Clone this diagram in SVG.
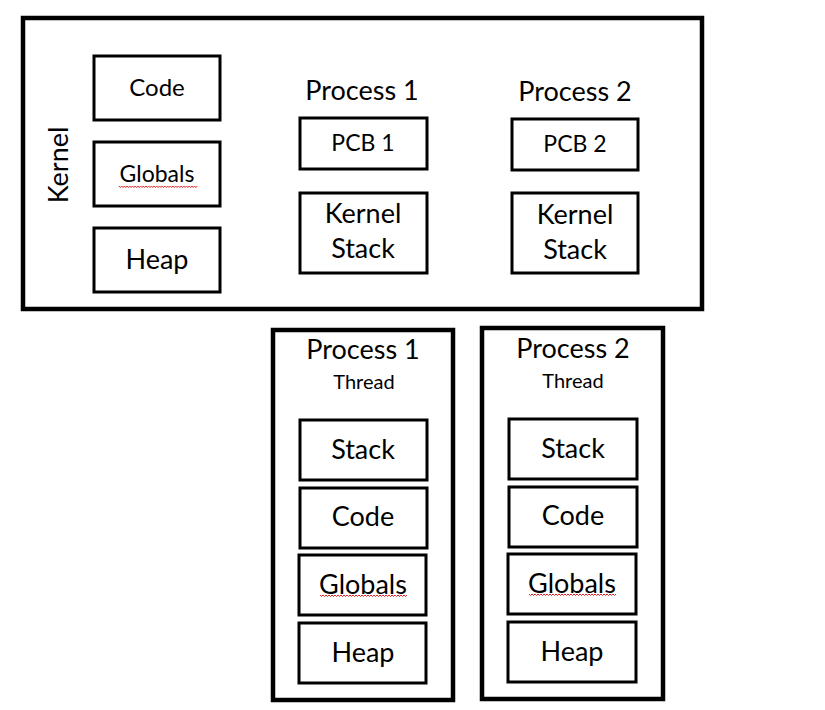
<svg xmlns="http://www.w3.org/2000/svg" width="825" height="710" viewBox="0 0 825 710">
<style>
.outer{fill:#fff;stroke:#000;stroke-width:4.5}
.box{fill:#fff;stroke:#000;stroke-width:3}
text{font-family:"Lato","Open Sans","Liberation Sans",sans-serif;fill:#000;text-anchor:middle}
.t26{font-size:27px}
.t24{font-size:24px}
.t22{font-size:23px}
.t20{font-size:20px}
.sq{fill:none;stroke:#e02020;stroke-width:1}
</style>
<defs>
<path id="wave" class="sq" d="M0,0 l1.5,1.5 l1.5,-1.5 l1.5,1.5 l1.5,-1.5 l1.5,1.5 l1.5,-1.5 l1.5,1.5 l1.5,-1.5 l1.5,1.5 l1.5,-1.5 l1.5,1.5 l1.5,-1.5 l1.5,1.5 l1.5,-1.5 l1.5,1.5 l1.5,-1.5 l1.5,1.5 l1.5,-1.5 l1.5,1.5 l1.5,-1.5 l1.5,1.5 l1.5,-1.5 l1.5,1.5 l1.5,-1.5 l1.5,1.5 l1.5,-1.5 l1.5,1.5 l1.5,-1.5 l1.5,1.5 l1.5,-1.5 l1.5,1.5 l1.5,-1.5 l1.5,1.5 l1.5,-1.5 l1.5,1.5 l1.5,-1.5 l1.5,1.5 l1.5,-1.5 l1.5,1.5 l1.5,-1.5 l1.5,1.5 l1.5,-1.5 l1.5,1.5 l1.5,-1.5 l1.5,1.5 l1.5,-1.5 l1.5,1.5 l1.5,-1.5 l1.5,1.5 l1.5,-1.5 l1.5,1.5 l1.5,-1.5 l1.5,1.5 l1.5,-1.5 l1.5,1.5 l1.5,-1.5 l1.5,1.5 l1.5,-1.5"/>
</defs>
<rect width="825" height="710" fill="#fff"/>

<g id="kernel">
<rect class="outer" x="23" y="18" width="679" height="291"/>
<text class="t26" transform="translate(68,165) rotate(-90)">Kernel</text>
</g>
<g id="k-code"><rect class="box" x="94" y="56" width="126" height="64"/><text class="t24" x="157" y="96">Code</text></g>
<g id="k-globals"><rect class="box" x="94" y="142" width="126" height="64"/><text class="t22" x="157" y="182">Globals</text><use href="#wave" transform="translate(119,186) scale(0.9,1)"/></g>
<g id="k-heap"><rect class="box" x="94" y="228" width="126" height="64"/><text class="t26" x="157" y="269">Heap</text></g>

<g id="p1-kernel">
<text class="t26" x="362" y="100">Process 1</text>
</g>
<g id="pcb1"><rect class="box" x="300" y="118" width="127" height="51"/><text class="t22" x="363" y="151">PCB 1</text></g>
<g id="kstack1"><rect class="box" x="300" y="193" width="127" height="80"/><text class="t26" x="363" y="223">Kernel</text><text class="t26" x="363" y="258">Stack</text></g>

<g id="p2-kernel">
<text class="t26" x="575" y="101">Process 2</text>
</g>
<g id="pcb2"><rect class="box" x="512" y="119" width="126" height="51"/><text class="t22" x="575" y="152">PCB 2</text></g>
<g id="kstack2"><rect class="box" x="512" y="193" width="126" height="80"/><text class="t26" x="575" y="224">Kernel</text><text class="t26" x="575" y="259">Stack</text></g>

<g id="thread1">
<rect class="outer" x="273" y="330" width="180" height="370"/>
<text class="t26" x="363" y="359">Process 1</text>
<text class="t20" x="364" y="389">Thread</text>
</g>
<g id="t1-stack"><rect class="box" x="300" y="420" width="127" height="60"/><text class="t26" x="363" y="459">Stack</text></g>
<g id="t1-code"><rect class="box" x="300" y="488" width="127" height="60"/><text class="t26" x="363" y="526">Code</text></g>
<g id="t1-globals"><rect class="box" x="299" y="555" width="127" height="60"/><text class="t26" x="363" y="594">Globals</text><use href="#wave" transform="translate(320,595) scale(1.0,1)"/></g>
<g id="t1-heap"><rect class="box" x="299" y="623" width="127" height="60"/><text class="t26" x="363" y="662">Heap</text></g>

<g id="thread2">
<rect class="outer" x="482" y="328" width="181" height="371"/>
<text class="t26" x="573" y="358">Process 2</text>
<text class="t20" x="573" y="388">Thread</text>
</g>
<g id="t2-stack"><rect class="box" x="509" y="419" width="128" height="60"/><text class="t26" x="573" y="458">Stack</text></g>
<g id="t2-code"><rect class="box" x="509" y="487" width="128" height="60"/><text class="t26" x="573" y="525">Code</text></g>
<g id="t2-globals"><rect class="box" x="508" y="554" width="128" height="60"/><text class="t26" x="572" y="593">Globals</text><use href="#wave" transform="translate(529,594) scale(1.0,1)"/></g>
<g id="t2-heap"><rect class="box" x="508" y="622" width="128" height="60"/><text class="t26" x="572" y="661">Heap</text></g>

<g id="connectors"></g>
</svg>
